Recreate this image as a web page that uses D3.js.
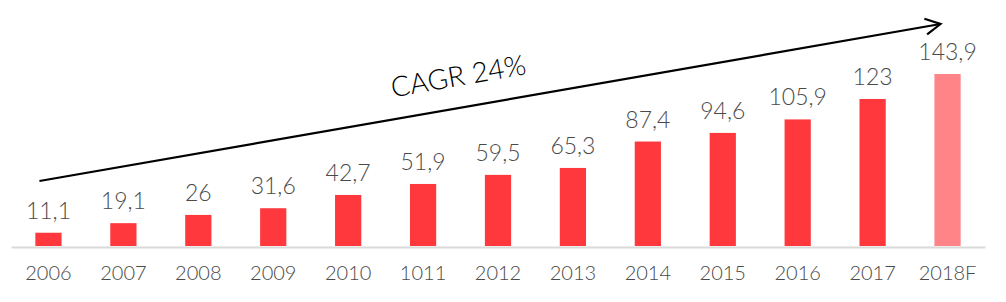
<!DOCTYPE html>
<html>
<head>
<meta charset="utf-8">
<script src="https://cdn.jsdelivr.net/npm/d3@7"></script>
<style>
  body { margin: 0; background: #fff; }
  svg { display: block; }
</style>
</head>
<body>
<div id="chart"></div>
<script>
// data
const years = ["2006", "2007", "2008", "2009", "2010", "1011", "2012", "2013", "2014", "2015", "2016", "2017", "2018F"]
const values = [11.1, 19.1, 26, 31.6, 42.7, 51.9, 59.5, 65.3, 87.4, 94.6, 105.9, 123, 143.9]
const labels = ["11,1", "19,1", "26", "31,6", "42,7", "51,9", "59,5", "65,3", "87,4", "94,6", "105,9", "123", "143,9"]
const forecast = ["2018F"]
const cagrText = "CAGR 24%"

const width = 1006
const height = 302
const margin = { top: 74, bottom: 56, left: 11, right: 21 }

const data = years.map((y, i) => ({ year: y, value: values[i], label: labels[i] }))

const svg = d3.select("#chart")
    .append("svg")
    .attr("width", width)
    .attr("height", height)

/* SCALES */
const xScale = d3.scaleBand()
    .domain(years)
    .range([margin.left, width - margin.right])
    .paddingInner(0.65)
    .paddingOuter(0.325)

const yScale = d3.scaleLinear()
    .domain([0, d3.max(values)])
    .range([height - margin.bottom, margin.top])

const font = "Lato, 'Century Gothic', sans-serif"
const textColor = "#4a4a4a"

// BARS
svg.selectAll("rect.bar")
    .data(data)
    .join("rect")
    .attr("class", "bar")
    .attr("x", d => xScale(d.year))
    .attr("y", d => yScale(d.value))
    .attr("width", xScale.bandwidth())
    .attr("height", d => yScale(0) - yScale(d.value))
    .style("fill", d => forecast.includes(d.year) ? "#ff8487" : "#ff383d")

// value labels
svg.selectAll("text.val")
    .data(data)
    .join("text")
    .attr("class", "val")
    .attr("x", d => xScale(d.year) + xScale.bandwidth() / 2)
    .attr("y", d => yScale(d.value) - 14)
    .attr("text-anchor", "middle")
    .style("font-family", font)
    .style("font-weight", 300)
    .style("font-size", "23px")
    .style("fill", textColor)
    .text(d => d.label)

// x axis
const xAxisGroup = svg.append("g")
    .attr("transform", `translate(0, ${yScale(0) + 1})`)
    .call(d3.axisBottom(xScale).tickSize(0).tickPadding(19))

xAxisGroup.select(".domain")
    .attr("stroke", "#d9d9d9")
    .attr("stroke-width", 2)

xAxisGroup.selectAll(".tick text")
    .style("font-family", font)
    .style("font-weight", 300)
    .style("font-size", "20px")
    .style("fill", textColor)

// CAGR arrow
svg.append("defs").append("marker")
    .attr("id", "head")
    .attr("viewBox", "0 0 20 20")
    .attr("refX", 16)
    .attr("refY", 10)
    .attr("markerWidth", 20)
    .attr("markerHeight", 20)
    .attr("markerUnits", "userSpaceOnUse")
    .attr("orient", "auto")
    .append("path")
    .attr("d", "M1,2 L16,10 L1,18")
    .attr("fill", "none")
    .attr("stroke", "#000")
    .attr("stroke-width", 2.2)

const x0 = xScale(years[0]) + xScale.bandwidth() / 2 - 9
const x1 = xScale(years[years.length - 1]) + xScale.bandwidth() / 2 - 7
const a0 = [x0, 181]
const a1 = [x1, 24]

svg.append("line")
    .attr("x1", a0[0])
    .attr("y1", a0[1])
    .attr("x2", a1[0])
    .attr("y2", a1[1])
    .attr("stroke", "#000")
    .attr("stroke-width", 2.2)
    .attr("marker-end", "url(#head)")

const angle = Math.atan2(a1[1] - a0[1], a1[0] - a0[0]) * 180 / Math.PI
const tx = 460
const ty = a0[1] + (a1[1] - a0[1]) * (tx - a0[0]) / (a1[0] - a0[0]) - 22

svg.append("text")
    .attr("transform", `translate(${tx},${ty}) rotate(${angle})`)
    .attr("text-anchor", "middle")
    .style("font-family", font)
    .style("font-weight", 300)
    .style("font-size", "28px")
    .style("fill", "#000")
    .text(cagrText)
</script>
</body>
</html>
